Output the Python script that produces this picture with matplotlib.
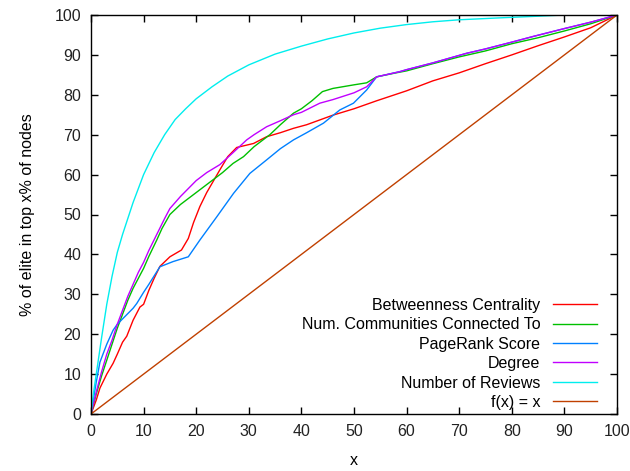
import matplotlib
matplotlib.use('Agg')
import matplotlib.pyplot as plt

plt.rcParams['font.family'] = ['Liberation Sans', 'DejaVu Sans']
plt.rcParams['font.size'] = 11.5

# Betweenness Centrality
bc_x = [0, 1, 1.7, 3, 4.2, 5, 6, 6.8, 8, 9.3, 10, 11, 12, 13.1, 15, 17.2, 18.5, 19.5, 20.7, 22,
        24.5, 26, 27.7, 30.9, 33.4, 36, 38.5, 41, 43.5, 46, 50, 54.3, 60, 65, 70, 75, 80, 85, 90, 95, 100]
bc_y = [0, 3.5, 6.5, 10, 12.7, 15, 18, 19.5, 23.5, 26.8, 27.5, 31, 34, 37, 39.4, 41.1, 44, 48, 52, 55.5,
        61.2, 64.5, 66.8, 67.8, 69.5, 70.5, 71.6, 72.5, 73.7, 74.9, 76.5, 78.5, 81, 83.5, 85.5, 87.8, 90, 92.3, 94.5, 96.8, 100]

# Num. Communities Connected To
nc_x = [0, 1, 2, 3, 4, 5, 6, 7, 8, 9, 10, 11, 12.5, 13.5, 15, 17, 20, 22, 25, 27, 29, 31, 34, 36,
        38.5, 40, 42, 44, 46, 50, 52.4, 54.3, 58, 60, 65, 70, 75, 80, 85, 90, 95, 100]
nc_y = [0, 5, 9.5, 13.5, 17.5, 21.5, 25, 28.5, 31.5, 34, 36.5, 39.5, 43.6, 46.5, 50, 52.5, 55.5, 57.5, 60.5, 62.8, 64.5, 67, 70, 72.5,
        75.4, 76.5, 78.5, 80.8, 81.6, 82.5, 83, 84.5, 85.5, 86, 87.8, 89.5, 91, 92.8, 94.3, 96, 97.8, 100]

# Degree
dg_x = [0, 1, 2, 3, 4, 5, 6, 7, 8, 9, 10, 11, 12.5, 14, 15, 17, 20, 22, 24.5, 27, 29.6, 31, 33.4, 36,
        38.5, 40, 43.5, 46, 50, 52.4, 54.3, 58.7, 60, 65, 71.4, 75, 80, 84, 90, 95, 100]
dg_y = [0, 5.5, 10.5, 15, 18.5, 22.5, 26, 29.5, 32.5, 35.5, 38, 41, 45, 49, 51.5, 54.5, 58.5, 60.5, 62.5, 65.5, 68.7, 70, 72, 73.5,
        75, 75.6, 77.9, 78.8, 80.5, 82, 84.5, 85.8, 86.3, 88, 90.4, 91.5, 93.2, 94.6, 96.6, 98.2, 100]

# PageRank Score
pr_x = [0, 1, 1.7, 3, 4.2, 5, 6.5, 8, 8.7, 10, 11, 13.1, 15.6, 18.5, 20.7, 23.9, 27.1, 30.2, 33.4, 36,
        38.5, 41, 44.2, 47.3, 49.9, 52.4, 54.3, 58.7, 60, 65, 71.4, 75, 80, 84, 90, 95, 100]
pr_y = [0, 8, 13, 17.5, 21, 22.5, 24.5, 26.5, 27.7, 30.5, 32.5, 36.9, 38.2, 39.4, 43.6, 49.4, 55.3, 60.3, 63.7, 66.5,
        68.7, 70.5, 72.9, 76.2, 77.9, 81.2, 84.5, 85.8, 86.3, 88, 90.4, 91.5, 93.2, 94.6, 96.6, 98.2, 100]

# Number of Reviews
nr_x = [0, 0.5, 1, 2, 3, 4, 5, 6, 8, 10, 12, 14, 16, 18, 20, 23, 26, 30, 35, 40, 45, 50, 55, 60, 65,
        70, 78, 85, 90, 100]
nr_y = [0, 5.5, 10, 19, 27.5, 34.5, 40.5, 45, 53, 60, 65.5, 70, 73.8, 76.5, 79, 82, 84.7, 87.5, 90.2, 92.2, 94, 95.5, 96.7, 97.6, 98.3,
        98.8, 99.3, 99.7, 100, 100]

# f(x) = x
fx_x = [0, 100]
fx_y = [0, 100]

series = [
    ('Betweenness Centrality', bc_x, bc_y, '#ff0000'),
    ('Num. Communities Connected To', nc_x, nc_y, '#00c000'),
    ('PageRank Score', pr_x, pr_y, '#0080ff'),
    ('Degree', dg_x, dg_y, '#c000ff'),
    ('Number of Reviews', nr_x, nr_y, '#00eeee'),
    ('f(x) = x', fx_x, fx_y, '#c04000'),
]

fig = plt.figure(figsize=(6.3, 4.71), dpi=100)
ax = fig.add_axes([91 / 630, 57 / 471, 526 / 630, 399 / 471])

for name, xs, ys, col in series:
    ax.plot(xs, ys, color=col, lw=1.0, label=name)

ax.set_xlim(0, 100)
ax.set_ylim(0, 100)
ax.set_xticks(range(0, 101, 10))
ax.set_yticks(range(0, 101, 10))
ax.tick_params(direction='in', length=5, width=1, top=True, right=True, pad=7, labelcolor='#222222')
for s in ax.spines.values():
    s.set_linewidth(1.0)

ax.set_xlabel('x', labelpad=10)
ax.set_ylabel('% of elite in top x% of nodes', labelpad=14)

leg = ax.legend(loc='lower right', bbox_to_anchor=(1 - 20 / 526, 4 / 399), frameon=False,
                markerfirst=False, handlelength=2.75, handletextpad=0.8, labelspacing=0.28,
                borderaxespad=0, borderpad=0)

fig.savefig('out.png', dpi=100)
